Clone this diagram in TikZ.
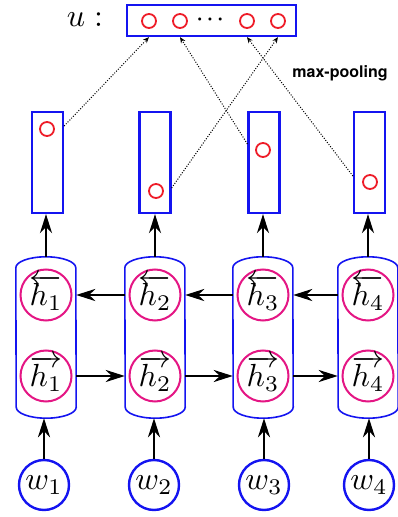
\documentclass[tikz,border=0pt]{standalone}
\usepackage{fontspec}
\newfontfamily\heros{TeX Gyre Heros}
\usetikzlibrary{arrows.meta,calc}
\definecolor{bblue}{RGB}{20,20,240}
\definecolor{hpink}{RGB}{228,22,132}
\definecolor{rred}{RGB}{238,28,40}
\newcommand\drawcapsule[1]{%
  \draw[capline] ([yshift=-11pt]#1.north west)
    arc[start angle=180,end angle=0,x radius=30pt,y radius=11pt]
    -- ([yshift=11pt]#1.south east)
    arc[start angle=0,end angle=-180,x radius=30pt,y radius=11pt]
    -- cycle;}
\newcommand\mbigtxt[1]{\scalebox{3.2}{$#1$}}
\begin{document}
\begin{tikzpicture}[x=1pt,y=1pt,
  wnode/.style={circle,draw=bblue,line width=2.4pt,minimum size=50pt,inner sep=0pt},
  hnode/.style={circle,draw=hpink,line width=2pt,minimum size=51pt,inner sep=0pt},
  htext/.style={inner sep=0pt,yshift=2pt},
  capnode/.style={rectangle,minimum width=60pt,minimum height=161pt,inner sep=0pt},
  capline/.style={draw=bblue,line width=1.6pt},
  outbox/.style={rectangle,draw=bblue,line width=2.2pt,minimum width=31pt,minimum height=101pt,inner sep=0pt},
  topbox/.style={rectangle,draw=bblue,line width=2.2pt,minimum width=169pt,minimum height=31pt,inner sep=0pt},
  rdot/.style={circle,draw=rred,line width=1.8pt,minimum size=14pt,inner sep=0pt},
  bigarrow/.style={-{Stealth[length=19pt,width=12pt,inset=6pt]},line width=2.5pt},
  dotarrow/.style={-{Stealth[length=6pt,width=5pt]},dash pattern=on 1pt off 1.6pt,line width=1pt},
]
\useasboundingbox (0,0) rectangle (398,517);

% words
\node[wnode,label={[inner sep=0pt]center:\mbigtxt{w_1}}] (w1) at (44,32) {};
\node[wnode,label={[inner sep=0pt]center:\mbigtxt{w_2}}] (w2) at (154,32) {};
\node[wnode,label={[inner sep=0pt]center:\mbigtxt{w_3}}] (w3) at (264,32) {};
\node[wnode,label={[inner sep=0pt]center:\mbigtxt{w_4}}] (w4) at (369,32) {};

% capsules
\node[capnode] (c1) at (46,179.5) {};
\node[capnode] (c2) at (155,179.5) {};
\node[capnode] (c3) at (263,179.5) {};
\node[capnode] (c4) at (368,179.5) {};
\drawcapsule{c1}\drawcapsule{c2}\drawcapsule{c3}\drawcapsule{c4}

% hidden states
\node[hnode,label={[htext]center:\mbigtxt{\overleftarrow{h_1}}}] (b1) at (46,222) {};
\node[hnode,label={[htext]center:\mbigtxt{\overleftarrow{h_2}}}] (b2) at (155,222) {};
\node[hnode,label={[htext]center:\mbigtxt{\overleftarrow{h_3}}}] (b3) at (263,222) {};
\node[hnode,label={[htext]center:\mbigtxt{\overleftarrow{h_4}}}] (b4) at (368,222) {};
\node[hnode,label={[htext]center:\mbigtxt{\overrightarrow{h_1}}}] (f1) at (46,141) {};
\node[hnode,label={[htext]center:\mbigtxt{\overrightarrow{h_2}}}] (f2) at (155,141) {};
\node[hnode,label={[htext]center:\mbigtxt{\overrightarrow{h_3}}}] (f3) at (263,141) {};
\node[hnode,label={[htext]center:\mbigtxt{\overrightarrow{h_4}}}] (f4) at (368,141) {};

% output vectors
\node[outbox] (r1) at (47.5,354.5) {};
\node[outbox] (r2) at (155,354.5) {};
\node[outbox] (r3) at (264,354.5) {};
\node[outbox] (r4) at (369.5,354.5) {};
\node[rdot] (d1) at (47,388) {};
\node[rdot] (d2) at (156,326) {};
\node[rdot] (d3) at (263,367) {};
\node[rdot] (d4) at (370,335) {};

% top vector
\node[topbox] (u) at (211.5,496.5) {};
\node[rdot] (u1) at (149,496) {};
\node[rdot] (u2) at (180,496) {};
\node[inner sep=0pt] (ud) at (210,497) {\scalebox{2}{\boldmath$\cdots$}};
\node[rdot] (u3) at (247,496) {};
\node[rdot] (u4) at (278,496) {};
\node (ulab) at (85,497) {\mbigtxt{u\;{:}}};
\node[font=\heros\bfseries\fontsize{16}{18}\selectfont] (mp) at (340,444) {max-pooling};

% vertical arrows
\foreach \i in {1,2,3,4}{
  \draw[bigarrow] (w\i.north) -- (w\i.north |- c\i.south);
  \draw[bigarrow] (c\i.north) -- (c\i.north |- r\i.south);
}

% horizontal arrows
\draw[bigarrow] (c2.west |- b2) -- (c1.east |- b1);
\draw[bigarrow] (c3.west |- b3) -- (c2.east |- b2);
\draw[bigarrow] (c4.west |- b4) -- (c3.east |- b3);
\draw[bigarrow] (c1.east |- f1) -- (c2.west |- f2);
\draw[bigarrow] (c2.east |- f2) -- (c3.west |- f3);
\draw[bigarrow] (c3.east |- f3) -- (c4.west |- f4);

% max-pooling arrows
\draw[dotarrow] ([yshift=3pt]r1.east |- d1) -- (u1 |- u.south);
\draw[dotarrow] ([yshift=3pt]r2.east |- d2) -- (u4 |- u.south);
\draw[dotarrow] ([yshift=6pt]r3.west |- d3) -- (u2 |- u.south);
\draw[dotarrow] ([yshift=6pt]r4.west |- d4) -- (u3 |- u.south);
\end{tikzpicture}
\end{document}
